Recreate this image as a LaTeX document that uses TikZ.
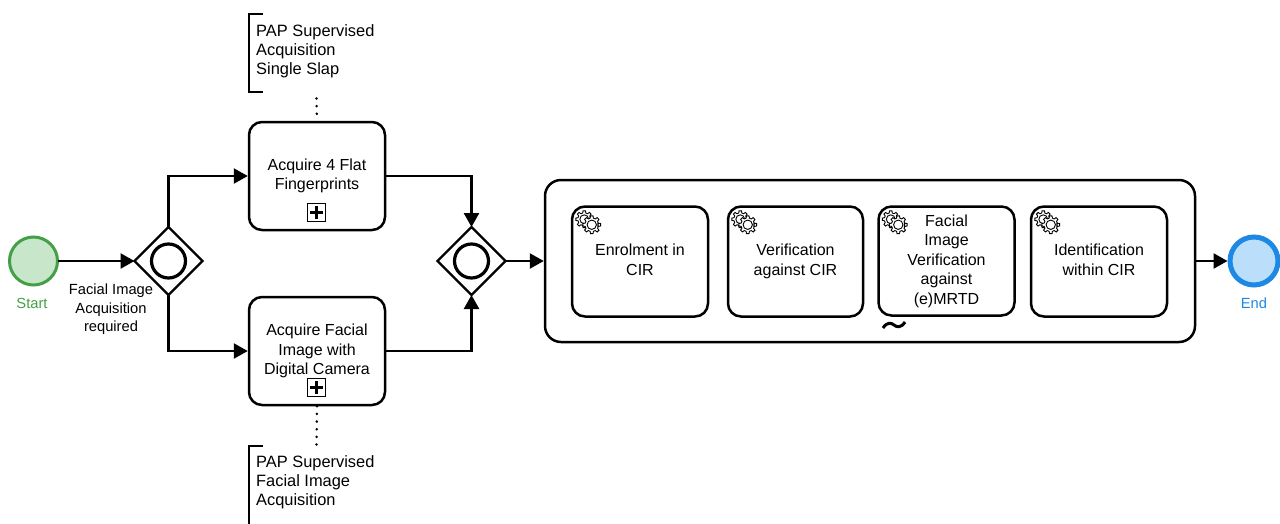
\documentclass[tikz,border=0pt]{standalone}
\usepackage{fontspec}
\setmainfont{Liberation Sans}
\usetikzlibrary{shapes.geometric,arrows.meta}
\definecolor{startFill}{HTML}{C8E6C9}
\definecolor{startLine}{HTML}{43A047}
\definecolor{endFill}{HTML}{BBDEFB}
\definecolor{endLine}{HTML}{1E88E5}
\newcommand{\labelfont}{\fontsize{14.7}{18.5}\selectfont}
\newcommand{\taskfont}{\fontsize{16}{19.5}\selectfont}
\newcommand{\notefont}{\fontsize{16.4}{19}\selectfont}
\tikzset{
    gearpic/.pic={
        % 8 teeth, outline only
        \draw[gearline, fill=white] (22.5:#1*0.74)
            \foreach \a in {0, 45, ..., 315} {
                -- ({\a-14}:#1*0.76) -- ({\a-8}:#1) -- ({\a+8}:#1) -- ({\a+14}:#1*0.76) -- ({\a+22.5}:#1*0.74)
            } -- cycle;
        \draw[gearline] (0,0) circle ({#1*0.52});
    }
}
\begin{document}
\begin{tikzpicture}[
        x=1pt, y=-1pt,
        flow/.style={-{Triangle[length=14pt, width=15pt]}, line width=2.5pt, black},
        task/.style={draw=black, line width=2.5pt, rounded corners=13pt, align=center, font=\taskfont, text depth=3.4pt},
        gateway/.style={diamond, draw=black, line width=2.2pt, fill=white, inner sep=0pt, outer sep=0pt, minimum width=68pt, minimum height=68pt},
        gatering/.style={circle, draw=black, line width=3.2pt, inner sep=0pt, minimum size=34pt},
        marker/.style={draw=black, line width=1.3pt, inner sep=0pt, minimum size=18pt},
        note/.style={anchor=west, align=left, font=\notefont, inner sep=0pt},
        assoc/.style={line width=2.8pt, line cap=round, dash pattern=on 0pt off 7.65pt},
        gearline/.style={line width=0.9pt, black}
    ]
    \useasboundingbox (0,0) rectangle (1280,523);

    % --- events ---
    \node[circle, draw=startLine, fill=startFill, line width=3pt, inner sep=0pt, outer sep=0pt, minimum size=48pt] (start) at (33.5,261) {};
    \node[text=startLine, font=\labelfont] (startLabel) at (32,303) {Start};
    \node[circle, draw=endLine, fill=endFill, line width=5pt, inner sep=0pt, minimum size=48pt] (stop) at (1254,261) {};
    \node[text=endLine, font=\labelfont] (stopLabel) at (1254,303) {End};

    % --- gateways ---
    \node[gateway] (split) at (168.5,261) {};
    \node[gatering] (splitRing) at (split) {};
    \node[gateway] (join) at (471.5,261) {};
    \node[gatering] (joinRing) at (join) {};
    \node[align=center, font=\labelfont] (splitLabel) at (111,309.5) {Facial Image\\Acquisition\\required};

    % --- upper and lower tasks ---
    \node[task, minimum width=136pt, minimum height=108pt] (finger) at (317,176) {Acquire 4 Flat\\Fingerprints};
    \node[task, minimum width=136pt, minimum height=108pt] (face) at (317,351) {Acquire Facial\\Image with\\Digital Camera};
    \node[marker] (fingerPlus) at (316.5,212.5) {};
    \node[marker] (facePlus) at (316.5,387.5) {};
    \foreach \n in {fingerPlus, facePlus} {
        \draw[line width=2.5pt] ([xshift=-6.5pt]\n.center) -- ([xshift=6.5pt]\n.center);
        \draw[line width=2.5pt] ([yshift=-6.5pt]\n.center) -- ([yshift=6.5pt]\n.center);
    }

    % --- sub process ---
    \node[task, rounded corners=16pt, minimum width=650pt, minimum height=162pt] (sub) at (870,261) {};
    \node[task, minimum width=136pt, minimum height=110pt] (enrol) at (640,261.5) {Enrolment in\\CIR};
    \node[task, minimum width=135pt, minimum height=110pt] (verify) at (795.5,261.5) {Verification\\against CIR};
    \node[task, minimum width=136pt, minimum height=109pt] (mrtd) at (946.5,261) {Facial\\Image\\Verification\\against\\(e)MRTD};
    \node[task, minimum width=136pt, minimum height=110pt] (identify) at (1099,261.5) {Identification\\within CIR};
    \foreach \n in {enrol, verify, mrtd, identify} {
        \pic at ([xshift=13.5pt, yshift=-14pt]\n.north west) {gearpic={8.5}};
        \pic at ([xshift=21pt, yshift=-19.5pt]\n.north west) {gearpic={9}};
    }
    \draw[line width=3pt] (883,328) .. controls (887,322) and (891,322.5) .. (894,325) .. controls (897,327.5) and (901,328) .. (905,322);

    % --- flows ---
    \draw[flow] (start) -- (split);
    \draw[flow] (split.north) |- (finger.west);
    \draw[flow] (split.south) |- (face.west);
    \draw[flow] (finger.east) -| (join.north);
    \draw[flow] (face.east) -| (join.south);
    \draw[flow] (join) -- (sub.west);
    \draw[flow] (sub.east) -- (stop);

    % --- annotations ---
    \node[note] (noteTop) at (256,51) {PAP Supervised\\Acquisition\\Single Slap};
    \node[note] (noteLow) at (256,482) {PAP Supervised\\Facial Image\\Acquisition};
    \draw[line width=2.5pt] (262.5,14) -| (249,92) -- (262.5,92);
    \draw[line width=2.5pt] (262.5,446) -| (249,530);
    \coordinate (noteTopEnd) at (316.5,98.5);
    \coordinate (noteLowEnd) at (316.5,446);
    \draw[assoc] (noteTopEnd) -- (finger.north);
    \draw[assoc] (face.south) -- (noteLowEnd);
\end{tikzpicture}
\end{document}
